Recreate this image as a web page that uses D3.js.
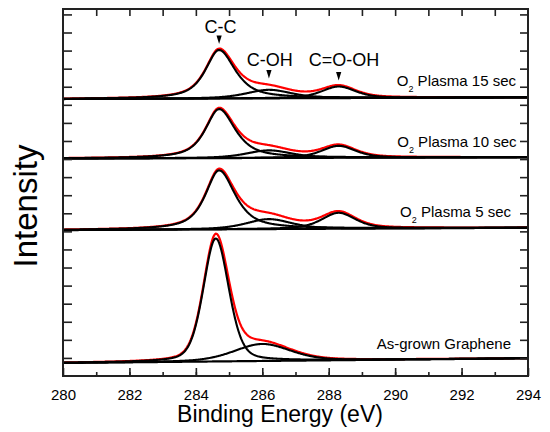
<!DOCTYPE html>
<html>
<head>
<meta charset="utf-8">
<script src="https://cdn.jsdelivr.net/npm/d3@7"></script>
<style>
  html, body { margin: 0; padding: 0; background: #fff; }
  svg { display: block; font-family: "Liberation Sans", Arial, sans-serif; }
</style>
</head>
<body>
<svg id="chart" width="550" height="432"></svg>
<script>
// ---- data ----
const panels      = ["As-grown Graphene", "O2 Plasma 5 sec", "O2 Plasma 10 sec", "O2 Plasma 15 sec"];
const baseLeft    = [0.72, 8.07, 12.03, 15.32];   // background level at 280 eV
const baseRight   = [0.98, 8.20, 12.10, 15.41];   // background level at 294 eV
const ccCenter    = [284.60, 284.70, 284.70, 284.70];
const ccHeight    = [6.80, 3.26, 2.71, 2.68];
const ccFwhmL     = [0.88, 0.98, 0.98, 0.98];
const ccFwhmR     = [0.92, 1.15, 1.15, 1.15];
const ccLorentz   = [0.30, 0.75, 0.75, 0.75];
const cohCenter   = [286.00, 286.20, 286.20, 286.20];
const cohHeight   = [0.94, 0.55, 0.42, 0.47];
const cohFwhm     = [2.00, 1.60, 1.60, 1.60];
const cohLorentz  = [0.30, 0.50, 0.50, 0.50];
const cooCenter   = [null, 288.30, 288.30, 288.30];
const cooHeight   = [0, 0.88, 0.66, 0.64];
const cooFwhm     = [null, 1.20, 1.20, 1.20];
const cooLorentz  = [null, 0.50, 0.50, 0.50];
const xTickLabels = [280, 282, 284, 286, 288, 290, 292, 294];
const yTicks      = d3.range(1, 21);
const annLabels   = ["C-C", "C-OH", "C=O-OH"];
const annEnergy   = [284.70, 286.20, 288.30];
const annArrowTop = [18.84, 16.92, 16.81];  // arrow tip base level (intensity units)
const annTextBase = [18.96, 17.15, 17.15];  // text baseline level (intensity units)

// ---- layout ----
const svg = d3.select("#chart");
const PL = 63, PR = 528, PT = 9, PB = 376;
const xs = d3.scaleLinear().domain([280, 294]).range([PL, PR]);
const ys = d3.scaleLinear().domain([0, 20.3]).range([PB, PT]);

function pv(e, c, h, fw, eta) {
  const hw = fw / 2, u = (e - c) / hw;
  return h * (eta / (1 + u * u) + (1 - eta) * Math.exp(-Math.LN2 * u * u));
}
function pvAsym(e, c, h, fl, fr, eta) {
  return pv(e, c, h, e < c ? fl : fr, eta);
}
const energies = d3.range(280, 294.0001, 0.02);

const lineGen = d3.line().x(d => xs(d[0])).y(d => ys(d[1]));

const plotG = svg.append("g");

panels.forEach((name, i) => {
  const bg = e => baseLeft[i] + (baseRight[i] - baseLeft[i]) * (e - 280) / 14;
  const cc  = e => pvAsym(e, ccCenter[i], ccHeight[i], ccFwhmL[i], ccFwhmR[i], ccLorentz[i]);
  const coh = e => pv(e, cohCenter[i], cohHeight[i], cohFwhm[i], cohLorentz[i]);
  const coo = e => cooCenter[i] == null ? 0 : pv(e, cooCenter[i], cooHeight[i], cooFwhm[i], cooLorentz[i]);

  const env = energies.map(e => [e, bg(e) + cc(e) + coh(e) + coo(e)]);
  plotG.append("path").attr("d", lineGen(env))
    .attr("fill", "none").attr("stroke", "#ff0000").attr("stroke-width", 2.2);

  const comps = [cc, coh];
  if (cooCenter[i] != null) comps.push(coo);
  plotG.append("path").attr("d", lineGen(energies.map(e => [e, bg(e)])))
    .attr("fill", "none").attr("stroke", "#000").attr("stroke-width", 2.2);
  comps.forEach(f => {
    plotG.append("path").attr("d", lineGen(energies.map(e => [e, bg(e) + f(e)])))
      .attr("fill", "none").attr("stroke", "#000").attr("stroke-width", 2.1);
  });
});

// ---- frame and ticks ----
const axisCol = "#222";
svg.append("rect").attr("x", PL).attr("y", PT).attr("width", PR - PL).attr("height", PB - PT)
  .attr("fill", "none").attr("stroke", axisCol).attr("stroke-width", 2);

const axB = d3.axisBottom(xs).tickValues(d3.range(281, 294)).tickSize(-4).tickFormat("");
const gb = svg.append("g").attr("transform", `translate(0,${PB})`).call(axB);
const axBM = d3.axisBottom(xs).tickValues(xTickLabels).tickSize(-8).tickPadding(13)
  .tickFormat(d3.format("d"));
const gbm = svg.append("g").attr("transform", `translate(0,${PB})`).call(axBM);
gbm.selectAll("text").attr("font-size", 15).attr("fill", "#000")
  .attr("font-family", "'Liberation Sans', Arial, sans-serif");

const axT = d3.axisTop(xs).tickValues(d3.range(281, 294)).tickSize(-7).tickFormat("");
const gt = svg.append("g").attr("transform", `translate(0,${PT})`).call(axT);

const axL = d3.axisLeft(ys).tickValues(yTicks).tickSize(-9).tickFormat("");
const gl = svg.append("g").attr("transform", `translate(${PL},0)`).call(axL);
const axR = d3.axisRight(ys).tickValues(yTicks).tickSize(-8).tickFormat("");
const gr = svg.append("g").attr("transform", `translate(${PR},0)`).call(axR);

[gb, gbm, gt, gl, gr].forEach(g => {
  g.select(".domain").remove();
  g.selectAll(".tick line").attr("stroke", axisCol).attr("stroke-width", 1.6);
});

// ---- panel labels ----
const panelLabelPos = [
  {x: 511, y: 349}, {x: 511, y: 216.7}, {x: 516.5, y: 146.7}, {x: 516, y: 85.7}
];
panels.forEach((name, i) => {
  const t = svg.append("text").attr("x", panelLabelPos[i].x).attr("y", panelLabelPos[i].y)
    .attr("text-anchor", "end").attr("font-size", 15).attr("fill", "#000");
  if (name.startsWith("O2")) {
    t.append("tspan").text("O");
    t.append("tspan").attr("font-size", 9).attr("dy", 6).text("2");
    t.append("tspan").attr("dy", -6).text(name.slice(2));
  } else {
    t.text(name);
  }
});

// ---- peak annotations ----
const annTextShift = [1.5, 0.8, 5.3];
annLabels.forEach((lab, k) => {
  const px = xs(annEnergy[k]);
  svg.append("text").attr("x", px + annTextShift[k]).attr("y", ys(annTextBase[k]))
    .attr("text-anchor", "middle").attr("font-size", 18).attr("fill", "#000").text(lab);
  const ty = ys(annArrowTop[k]);
  svg.append("path")
    .attr("d", `M${px - 2.6},${ty} L${px + 2.6},${ty} L${px},${ty + 8.5} Z`)
    .attr("fill", "#000");
});

// ---- axis titles ----
svg.append("text").attr("x", 280).attr("y", 422).attr("text-anchor", "middle")
  .attr("font-size", 23).attr("fill", "#000").text("Binding Energy (eV)");
svg.append("text").attr("transform", "translate(37,206) rotate(-90)")
  .attr("text-anchor", "middle").attr("font-size", 33).attr("fill", "#000").text("Intensity");
</script>
</body>
</html>
